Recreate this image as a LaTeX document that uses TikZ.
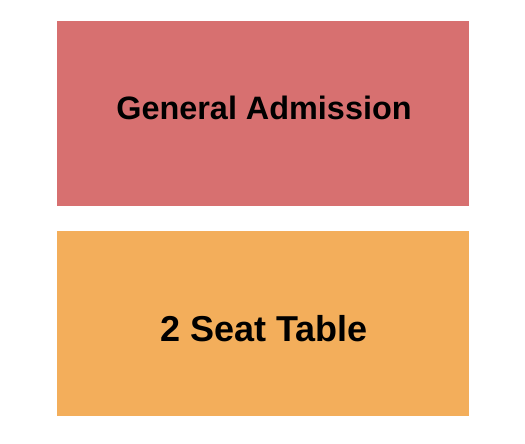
\documentclass[tikz,border=0pt]{standalone}
\usepackage{fontspec}
\setmainfont{Liberation Sans}
\definecolor{gacolor}{HTML}{D77070}
\definecolor{tablecolor}{HTML}{F3AE5B}

\begin{document}
\begin{tikzpicture}[x=1pt,y=1pt]
		\tikzstyle{section}=[rectangle,draw=none,minimum width=412pt,minimum height=185pt,inner sep=0pt]
		\tikzstyle{ga section}=[section, fill=gacolor];
		\tikzstyle{table section}=[section, fill=tablecolor];
		\tikzstyle{label} = [font=\bfseries, text=black, inner sep=0pt]
		
		% Fix the page size
		\useasboundingbox (0,0) rectangle (525,-444);
		
		% Draw the sections
		\node[ga section] (GA) at (263,-113.5) {};
		\node[table section] (T) at (263,-323) {};
		
		% Annotate the sections
		\node[label, yshift=5.5pt, xshift=1pt] (GA-label) at (GA.center) {\fontsize{32.4}{38}\selectfont General Admission};
		\node[label, yshift=-5.3pt, xshift=1pt] (T-label) at (T.center) {\fontsize{36}{42}\selectfont 2 Seat Table};
	\end{tikzpicture}
\end{document}
